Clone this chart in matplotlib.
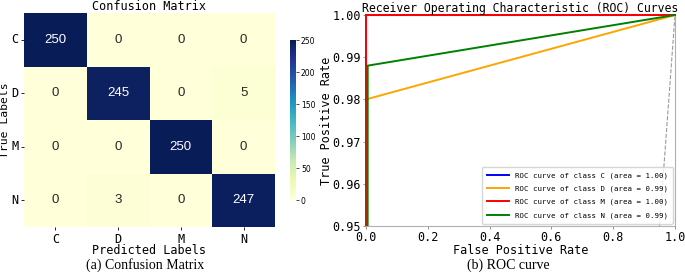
import numpy as np
import matplotlib
matplotlib.use("Agg")
import matplotlib.pyplot as plt
from matplotlib.transforms import Bbox, TransformedBbox
import seaborn as sns

labels = ["C", "D", "M", "N"]
cm = np.array([[250, 0, 0, 0],
               [0, 245, 0, 5],
               [0, 0, 250, 0],
               [0, 3, 0, 247]])

roc_fpr = {
    "C": [0.0, 0.0, 1.0],
    "D": [0.0, 0.0, 1.0],
    "M": [0.0, 0.0, 1.0],
    "N": [0.0, 0.0055, 1.0],
}
roc_tpr = {
    "C": [0.0, 1.0, 1.0],
    "D": [0.0, 0.98, 1.0],
    "M": [0.0, 1.0, 1.0],
    "N": [0.0, 0.988, 1.0],
}
roc_auc = {"C": 1.00, "D": 0.99, "M": 1.00, "N": 0.99}
roc_colors = {"C": "blue", "D": "orange", "M": "red", "N": "green"}

mono = "DejaVu Sans Mono"
W, H = 685, 272
fig = plt.figure(figsize=(W / 100, H / 100), dpi=100)

def rect(x0, y0, x1, y1):
    return [x0 / W, 1 - y1 / H, (x1 - x0) / W, (y1 - y0) / H]

# --- Confusion matrix ---
ax1 = fig.add_axes(rect(24, 13, 275, 227))
cax = fig.add_axes(rect(290, 40, 296, 200))
sns.heatmap(cm, annot=True, fmt="d", cmap="YlGnBu", ax=ax1, cbar_ax=cax,
            linewidths=0,
            annot_kws={"fontsize": 9.5, "family": "Liberation Sans"},
            vmin=0, vmax=250)
ax1.set_xticks(np.arange(len(labels)) + 0.5)
ax1.set_yticks(np.arange(len(labels)) + 0.5)
ax1.set_xticklabels(labels, family=mono, fontsize=8.5)
ax1.set_yticklabels(labels, family=mono, fontsize=8.5, rotation=0)
ax1.tick_params(length=2, width=0.6, pad=2)
ax1.set_title("Confusion Matrix", family=mono, fontsize=8.5, pad=2)
ax1.set_xlabel("Predicted Labels", family=mono, fontsize=8.5, labelpad=-1)
ax1.set_ylabel("True Labels", family=mono, fontsize=8.2, labelpad=1)
cax.tick_params(labelsize=5.5, length=2, width=0.5, pad=1.5)
cax.set_yticks([0, 50, 100, 150, 200, 250])
for s in cax.spines.values():
    s.set_visible(False)

# --- ROC ---
ax2 = fig.add_axes(rect(366, 15, 675, 226))
ax2.plot([0, 1], [0, 1], linestyle="--", color="gray", lw=0.8, alpha=0.8)
clip = TransformedBbox(Bbox([[-0.006, 0.0], [1.006, 1.01]]), ax2.transAxes)
for c in labels:
    ln, = ax2.plot(roc_fpr[c], roc_tpr[c], color=roc_colors[c], lw=1.4, zorder=3,
                   label=f"ROC curve of class {c} (area = {roc_auc[c]:.2f})")
    ln.set_clip_box(clip)
ax2.set_xlim(0, 1)
ax2.set_ylim(0.95, 1.0)
ax2.set_xticks([0, 0.2, 0.4, 0.6, 0.8, 1.0])
ax2.set_yticks([0.95, 0.96, 0.97, 0.98, 0.99, 1.00])
ax2.set_xticklabels(["0.0", "0.2", "0.4", "0.6", "0.8", "1.0"], family=mono, fontsize=8.5)
ax2.set_yticklabels(["0.95", "0.96", "0.97", "0.98", "0.99", "1.00"], family=mono, fontsize=8.5)
ax2.tick_params(length=2, width=0.6, pad=1.5, color="gray")
for s in ax2.spines.values():
    s.set_color("#b0b0b0")
    s.set_linewidth(0.8)
ax2.set_title("Receiver Operating Characteristic (ROC) Curves", family=mono, fontsize=8.3, pad=2)
ax2.set_xlabel("False Positive Rate", family=mono, fontsize=8.5, labelpad=0)
ax2.set_ylabel("True Positive Rate", family=mono, fontsize=8.5, labelpad=0)
leg = ax2.legend(loc="lower right", prop={"family": mono, "size": 5.3},
                 handlelength=3, borderaxespad=0.3, labelspacing=0.9, borderpad=0.7,
                 fancybox=True)
leg.set_zorder(5)

fig.text(145 / W, 1 - 265 / H, "(a) Confusion Matrix", family="Liberation Serif",
         fontsize=10, ha="center", va="center")
fig.text(508 / W, 1 - 265 / H, "(b) ROC curve", family="Liberation Serif",
         fontsize=10, ha="center", va="center")

fig.savefig("out.png", dpi=100)
